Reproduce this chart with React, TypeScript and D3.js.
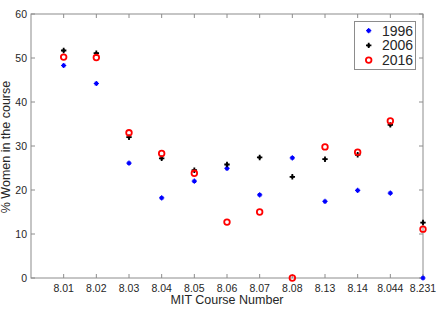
import React from "react";
import * as d3 from "d3";

const categories = ["8.01", "8.02", "8.03", "8.04", "8.05", "8.06", "8.07", "8.08", "8.13", "8.14", "8.044", "8.231"];
const values1996 = [48.3, 44.2, 26.1, 18.2, 22.0, 24.9, 18.9, 27.3, 17.4, 19.9, 19.3, 0];
const values2006 = [51.7, 51.1, 32.0, 27.2, 24.5, 25.8, 27.4, 23.0, 27.0, 28.0, 34.8, 12.6];
const values2016 = [50.2, 50.1, 33.0, 28.3, 23.8, 12.7, 15.0, 0, 29.8, 28.6, 35.7, 11.1];
const yTicks = [0, 10, 20, 30, 40, 50, 60];
const seriesNames = ["1996", "2006", "2016"];

const W = 436, H = 310;
const L = 31, R = 423, T = 14, B = 278;
const axisColor = "#8c8c8c";
const textColor = "#262626";
const font = "Liberation Sans, Arial, Helvetica, sans-serif";

function Star({ x, y }: { x: number; y: number }) {
  const s = 1.8;
  return (
    <g transform={`translate(${x},${y})`}>
      <rect x={-s} y={-s} width={2 * s} height={2 * s} fill="#0000ff" />
      <path d={`M${-2.6},0H2.6M0,${-2.6}V2.6`} stroke="#0000ff" strokeWidth={1.2} />
    </g>
  );
}

function Plus({ x, y }: { x: number; y: number }) {
  return (
    <g transform={`translate(${x},${y})`}>
      <path d="M-2.7,0H2.7M0,-2.7V2.7" stroke="#000" strokeWidth={1.8} />
      <circle r={1.5} fill="#000" />
    </g>
  );
}

function Ring({ x, y }: { x: number; y: number }) {
  return <circle cx={x} cy={y} r={2.8} fill="none" stroke="#ff0000" strokeWidth={1.8} />;
}

export default function App() {
  const x = d3.scaleLinear().domain([0, categories.length]).range([L, R]);
  const y = d3.scaleLinear().domain([0, 60]).range([B, T]);
  const tickLen = 4;
  return (
    <svg width={W} height={H} style={{ position: "absolute", left: 0, top: 0, background: "#fff" }} fontFamily={font}>
      <rect x={0} y={0} width={W} height={H} fill="#fff" />
      <rect x={L} y={T} width={R - L} height={B - T} fill="none" stroke={axisColor} strokeWidth={1} />
      {categories.map((c, i) => {
        const px = x(i + 1);
        return (
          <g key={c}>
            <line x1={px} x2={px} y1={B} y2={B - tickLen} stroke={axisColor} />
            <line x1={px} x2={px} y1={T} y2={T + tickLen} stroke={axisColor} />
            <text x={px} y={B + 14} textAnchor="middle" fontSize={10.5} fill={textColor}>{c}</text>
          </g>
        );
      })}
      {yTicks.map((t) => {
        const py = y(t);
        return (
          <g key={t}>
            <line x1={L} x2={L + tickLen} y1={py} y2={py} stroke={axisColor} />
            <line x1={R} x2={R - tickLen} y1={py} y2={py} stroke={axisColor} />
            <text x={L - 4} y={py + 4} textAnchor="end" fontSize={10.5} fill={textColor}>{t}</text>
          </g>
        );
      })}
      <text x={(L + R) / 2} y={B + 26} textAnchor="middle" fontSize={12.5} fill={textColor}>MIT Course Number</text>
      <text transform={`translate(9.5,${(T + B) / 2 + 1}) rotate(-90)`} textAnchor="middle" fontSize={12.5} fill={textColor}>% Women in the course</text>
      {values1996.map((v, i) => <Star key={"a" + i} x={x(i + 1)} y={y(v)} />)}
      {values2006.map((v, i) => <Plus key={"b" + i} x={x(i + 1)} y={y(v)} />)}
      {values2016.map((v, i) => <Ring key={"c" + i} x={x(i + 1)} y={y(v)} />)}
      <g>
        <rect x={354.5} y={21.5} width={61} height={48} fill="#fff" stroke={axisColor} />
        {seriesNames.map((n, i) => {
          const ly = 30.7 + i * 14.7;
          return (
            <g key={n}>
              {i === 0 && <Star x={368.7} y={ly} />}
              {i === 1 && <Plus x={368.7} y={ly} />}
              {i === 2 && <Ring x={368.7} y={ly} />}
              <text x={382} y={ly + 5} fontSize={14} fill={textColor}>{n}</text>
            </g>
          );
        })}
      </g>
    </svg>
  );
}
